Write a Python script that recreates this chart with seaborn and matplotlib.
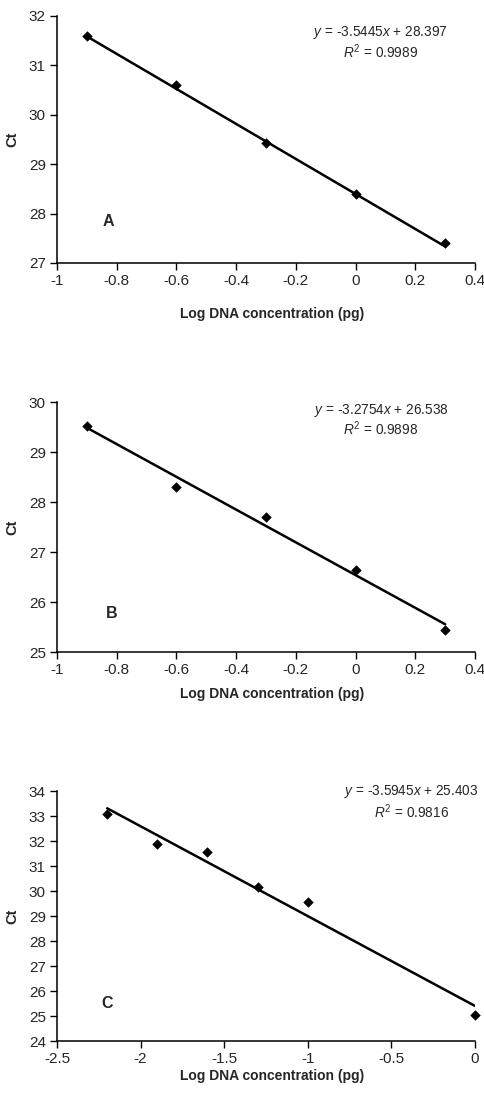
import numpy as np
import pandas as pd
import matplotlib
matplotlib.use('Agg')
import matplotlib.pyplot as plt
import seaborn as sns

sns.set_style("ticks")
plt.rcParams['font.family'] = ['Liberation Sans', 'DejaVu Sans']
plt.rcParams['mathtext.fontset'] = 'custom'
plt.rcParams['mathtext.rm'] = 'Liberation Sans'
plt.rcParams['mathtext.it'] = 'Liberation Sans:italic'

# panel data
x_a = [-0.9, -0.6, -0.3, 0.0, 0.3]
ct_a = [31.6, 30.6, 29.43, 28.4, 27.4]
slope_a, icpt_a, r2_a = -3.5445, 28.397, 0.9989

x_b = [-0.9, -0.6, -0.3, 0.0, 0.3]
ct_b = [29.53, 28.3, 27.7, 26.65, 25.45]
slope_b, icpt_b, r2_b = -3.2754, 26.538, 0.9898

x_c = [-2.2, -1.9, -1.6, -1.3, -1.0, 0.0]
ct_c = [33.1, 31.88, 31.55, 30.15, 29.55, 25.05]
slope_c, icpt_c, r2_c = -3.5945, 25.403, 0.9816

panels = [
    dict(x=x_a, y=ct_a, m=slope_a, b=icpt_a, r2=r2_a, letter='A',
         xlim=(-1, 0.4), xticks=[-1, -0.8, -0.6, -0.4, -0.2, 0, 0.2, 0.4],
         ylim=(27, 32), yticks=range(27, 33),
         rect=[0.1175, 0.7596, 0.862, 0.2258],
         eq_pos=(0.773, 0.935), r2_pos=(0.773, 0.854), let_pos=(0.122, 0.17), xl_y=-0.178),
    dict(x=x_b, y=ct_b, m=slope_b, b=icpt_b, r2=r2_b, letter='B',
         xlim=(-1, 0.4), xticks=[-1, -0.8, -0.6, -0.4, -0.2, 0, 0.2, 0.4],
         ylim=(25, 30), yticks=range(25, 31),
         rect=[0.1175, 0.404, 0.862, 0.2285],
         eq_pos=(0.775, 0.968), r2_pos=(0.775, 0.892), let_pos=(0.13, 0.156), xl_y=-0.14),
    dict(x=x_c, y=ct_c, m=slope_c, b=icpt_c, r2=r2_c, letter='C',
         xlim=(-2.5, 0), xticks=[-2.5, -2, -1.5, -1, -0.5, 0],
         ylim=(24, 34), yticks=range(24, 35),
         rect=[0.1175, 0.0484, 0.862, 0.2285],
         eq_pos=(0.847, 1.0), r2_pos=(0.847, 0.916), let_pos=(0.12, 0.152), xl_y=-0.112),
]

fig = plt.figure(figsize=(4.85, 10.94), dpi=100)

for p in panels:
    ax = fig.add_axes(p['rect'])
    df = pd.DataFrame({'x': p['x'], 'y': p['y']})
    xs = np.array([min(p['x']), max(p['x'])])
    fit = pd.DataFrame({'x': xs, 'y': p['m'] * xs + p['b']})
    sns.lineplot(data=fit, x='x', y='y', ax=ax, color='black', linewidth=1.8)
    sns.scatterplot(data=df, x='x', y='y', ax=ax, marker='D', color='black',
                    s=24, edgecolor='black', zorder=3, clip_on=False)
    ax.set_xlim(*p['xlim'])
    ax.set_ylim(*p['ylim'])
    ax.set_xticks(p['xticks'])
    ax.set_xticklabels([f'{t:g}' for t in p['xticks']])
    ax.set_yticks(list(p['yticks']))
    ax.tick_params(labelsize=11, length=5, width=1, color='black', direction='out', pad=3)
    for s in ['top', 'right']:
        ax.spines[s].set_visible(False)
    for s in ['left', 'bottom']:
        ax.spines[s].set_color('black')
        ax.spines[s].set_linewidth(1.1)
    ax.set_xlabel('Log DNA concentration (pg)', fontsize=10, fontweight='bold')
    ax.xaxis.set_label_coords(0.514, p['xl_y'])
    ax.set_ylabel('Ct', fontsize=10.5, fontweight='bold')
    ax.yaxis.set_label_coords(-0.089, 0.5)
    ax.text(*p['eq_pos'], f'$y$ = {p["m"]}$x$ + {p["b"]:.3f}', transform=ax.transAxes,
            ha='center', va='center', fontsize=9.8)
    ax.text(*p['r2_pos'], f'$R^2$ = {p["r2"]:.4f}', transform=ax.transAxes,
            ha='center', va='center', fontsize=9.8)
    ax.text(*p['let_pos'], p['letter'], transform=ax.transAxes, ha='center', va='center',
            fontsize=11.5, fontweight='bold')

fig.savefig('out.png', dpi=100)
